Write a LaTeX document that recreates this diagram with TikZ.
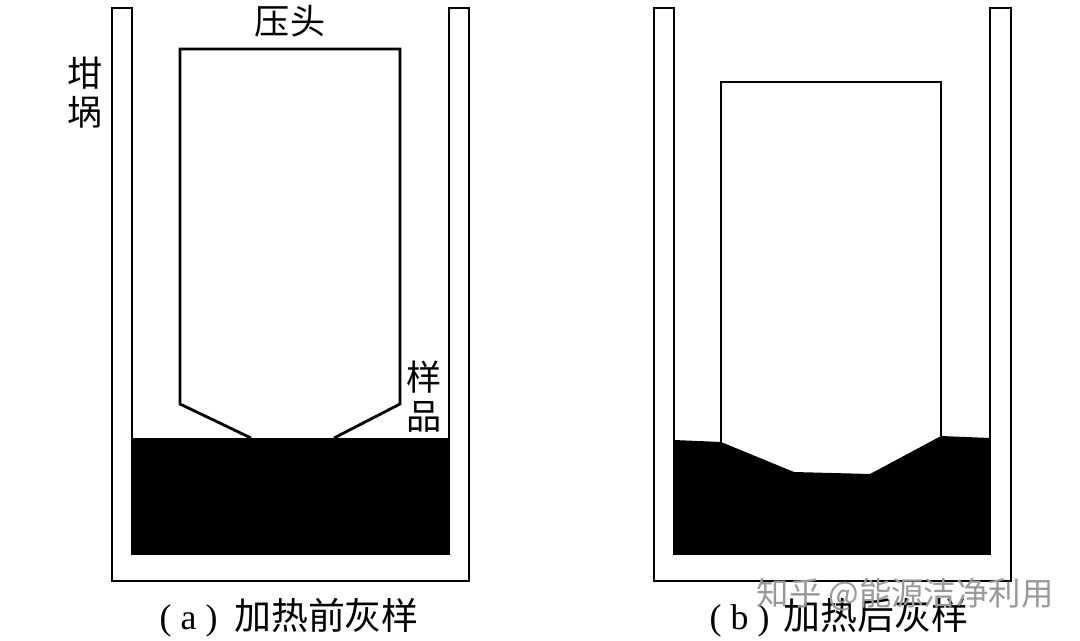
\documentclass[tikz,border=0pt]{standalone}
\usepackage{fontspec}
\setmainfont{Liberation Serif}
\newfontfamily\cjk{Noto Sans CJK SC}
\tikzset{
 wall/.style={line width=0.8pt, line join=miter},
 zi/.style={font=\cjk\fontsize{10pt}{11.1pt}\selectfont, inner sep=0pt, align=center},
 caption/.style={font=\fontsize{10.2pt}{12pt}\selectfont, inner sep=0pt, anchor=west},
}
\newcommand{\capzi}[1]{{\cjk\fontsize{10.5pt}{12pt}\selectfont #1}}
\begin{document}
\begin{tikzpicture}[x=0.01cm,y=-0.01cm]
 \useasboundingbox (0,0) rectangle (1080,640);

 % before heating
 \fill (132,438) -- (449,438) -- (449,554) -- (132,554) -- cycle;
 \draw[wall] (112,8) -- (132,8) -- (132,554) -- (449,554) -- (449,8) -- (469,8) -- (469,581) -- (112,581) -- cycle;
 \draw[wall] (251,438) -- (180,404) -- (180,49) -- (400,49) -- (400,404) -- (334,438);
 \node[zi] (head) at (290,21) {压头};
 \node[zi] (crucible) at (85,93) {坩\\埚};
 \node[zi] (sample) at (424,397) {样\\品};
 \node[caption] (capa) at (159,618) {( a )\hspace{2.2pt} \capzi{加热前灰样}};

 % after heating
 \fill (674,440) -- (721,442) -- (794,472) -- (870,474) -- (941,436) -- (990,438) -- (990,554) -- (674,554) -- cycle;
 \draw[wall] (654,8) -- (674,8) -- (674,554) -- (990,554) -- (990,8) -- (1011,8) -- (1011,581) -- (654,581) -- cycle;
 \draw[wall] (721,442) -- (721,82) -- (941,82) -- (941,436);
 \node[caption] (capb) at (709,618) {( b )\hspace{1.5pt} \capzi{加热后灰样}};

 \node[font=\cjk\fontsize{9.2pt}{10pt}\selectfont, text=black!40, inner sep=0pt] (mark) at (905,595) {知乎 @能源洁净利用};
\end{tikzpicture}
\end{document}
